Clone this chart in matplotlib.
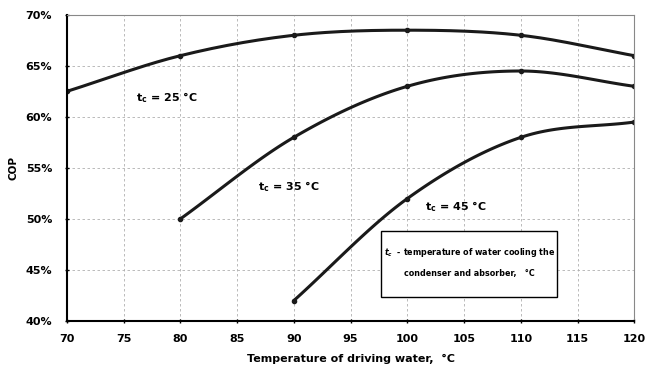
import numpy as np
import matplotlib
matplotlib.use("Agg")
import matplotlib.pyplot as plt
from matplotlib.ticker import PercentFormatter

# temperatura del agua de accionamiento, °C
t_25 = [70, 80, 90, 100, 110, 120]
cop_25 = [62.5, 66.0, 68.0, 68.5, 68.0, 66.0]
t_35 = [80, 90, 100, 110, 120]
cop_35 = [50.0, 58.0, 63.0, 64.5, 63.0]
t_45 = [90, 100, 110, 120]
cop_45 = [42.0, 52.0, 58.0, 59.5]

plt.rcParams['font.family'] = ['DejaVu Sans']
plt.rcParams['font.weight'] = 'bold'


def smooth(x, y, n=30):
    # curva suave tipo Catmull-Rom (como las lineas suavizadas de Excel)
    x = np.asarray(x, float)
    y = np.asarray(y, float)
    px = np.concatenate([[2 * x[0] - x[1]], x, [2 * x[-1] - x[-2]]])
    py = np.concatenate([[2 * y[0] - y[1]], y, [2 * y[-1] - y[-2]]])
    xs, ys = [], []
    s = np.linspace(0, 1, n)
    for i in range(1, len(px) - 2):
        for p, out in ((px, xs), (py, ys)):
            p0, p1, p2, p3 = p[i - 1], p[i], p[i + 1], p[i + 2]
            out.extend(0.5 * ((2 * p1) + (-p0 + p2) * s
                              + (2 * p0 - 5 * p1 + 4 * p2 - p3) * s ** 2
                              + (-p0 + 3 * p1 - 3 * p2 + p3) * s ** 3))
    return xs, ys


fig = plt.figure(figsize=(6.48, 3.72), dpi=100)
ax = fig.add_axes([0.103, 0.137, 0.876, 0.823])

for x, y in ((t_25, cop_25), (t_35, cop_35), (t_45, cop_45)):
    sx, sy = smooth(x, y)
    ax.plot(sx, sy, color='#1a1a1a', lw=2.2, solid_capstyle='round')
    ax.plot(x, y, 'o', color='#1a1a1a', ms=3)

ax.set_xlim(70, 120)
ax.set_ylim(40, 70)
ax.set_xticks(range(70, 121, 5))
ax.set_yticks(range(40, 71, 5))
ax.yaxis.set_major_formatter(PercentFormatter(decimals=0))
ax.tick_params(labelsize=8, length=3, width=1, direction='inout')
ax.tick_params(axis='x', pad=8)
ax.tick_params(axis='y', pad=9)
ax.grid(True, ls=(0, (3, 3)), color='#b0b0b0', lw=0.6)

for side in ('left', 'bottom'):
    ax.spines[side].set_linewidth(1.5)
for side in ('top', 'right'):
    ax.spines[side].set_color('#888888')
    ax.spines[side].set_linewidth(0.8)

ax.set_ylabel('COP', fontsize=7.5, fontweight='bold', labelpad=5)
ax.set_xlabel('Temperature of driving water,  °C', fontsize=8,
              fontweight='bold', labelpad=7)

ax.text(78.8, 61.9, r'$\mathbf{t_c}$ = 25 °C', fontsize=8, ha='center', va='center')
ax.text(89.6, 53.2, r'$\mathbf{t_c}$ = 35 °C', fontsize=8, ha='center', va='center')
ax.text(104.3, 51.2, r'$\mathbf{t_c}$ = 45 °C', fontsize=8, ha='center', va='center')

box = plt.Rectangle((97.7, 42.4), 15.5, 6.4, fill=True, facecolor='white',
                    edgecolor='black', lw=1.0, zorder=3)
ax.add_patch(box)
ax.text(105.45, 46.7, r'$t_c$  - temperature of water cooling the',
        fontsize=5.8, ha='center', va='center', zorder=4)
ax.text(105.45, 44.7, 'condenser and absorber,   °C',
        fontsize=5.8, ha='center', va='center', zorder=4)

fig.savefig('out.png', dpi=100)
